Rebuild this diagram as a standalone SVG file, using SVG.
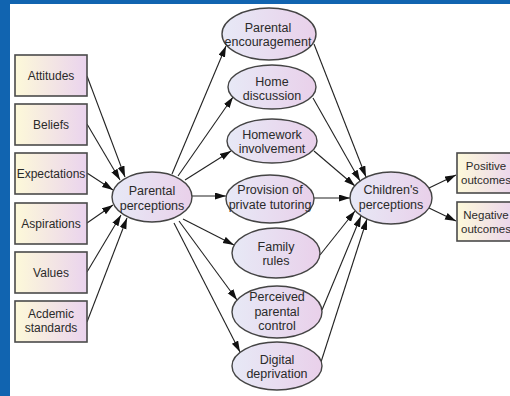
<svg xmlns="http://www.w3.org/2000/svg" width="510" height="396" viewBox="0 0 510 396">
<defs>
<linearGradient id="gBox" x1="0" y1="0" x2="1" y2="0">
<stop offset="0" stop-color="#fdf9d9"/>
<stop offset="1" stop-color="#ead3ee"/>
</linearGradient>
<linearGradient id="gEll" x1="0" y1="0" x2="1" y2="0">
<stop offset="0" stop-color="#e7e9f6"/>
<stop offset="1" stop-color="#e9d0ea"/>
</linearGradient>
<marker id="ah" markerUnits="userSpaceOnUse" markerWidth="12" markerHeight="8" refX="11" refY="3.5" orient="auto">
<path d="M0,0 L11,3.5 L0,7 z" fill="#111"/>
</marker>
<style>
.box{fill:url(#gBox);stroke:#4a4a4a;stroke-width:1.6}
.ell{fill:url(#gEll);stroke:#444;stroke-width:1.4}
text{font-family:"Liberation Sans",Arial,sans-serif;font-size:12.5px;fill:#2a2a2a;text-anchor:middle}
.bt{font-size:12px}
.ot{font-size:11.5px}
#connectors line{stroke:#222;stroke-width:1.1;marker-end:url(#ah)}
</style>
</defs>
<rect x="0" y="0" width="510" height="396" fill="#ffffff"/>
<rect x="0" y="0" width="510" height="4" fill="#1164b0"/>
<rect x="0" y="0" width="10" height="396" fill="#1164b0"/>

<g id="connectors">
<line x1="87" y1="76" x2="125" y2="177"/>
<line x1="87" y1="124" x2="120" y2="180"/>
<line x1="87" y1="173" x2="113" y2="190"/>
<line x1="87" y1="223" x2="113" y2="205"/>
<line x1="87" y1="272" x2="121" y2="215"/>
<line x1="87" y1="322" x2="127" y2="218"/>

<line x1="172" y1="174" x2="226" y2="46"/>
<line x1="178" y1="176" x2="233" y2="97"/>
<line x1="185" y1="180" x2="231" y2="151"/>
<line x1="192" y1="196" x2="226" y2="196"/>
<line x1="183" y1="219" x2="234" y2="245"/>
<line x1="179" y1="221" x2="237" y2="300"/>
<line x1="174" y1="223" x2="240" y2="352"/>

<line x1="314" y1="44" x2="366" y2="177"/>
<line x1="313" y1="98" x2="360" y2="181"/>
<line x1="314" y1="151" x2="355" y2="186"/>
<line x1="314" y1="198" x2="350" y2="198"/>
<line x1="320" y1="255" x2="355" y2="211"/>
<line x1="322" y1="310" x2="361" y2="216"/>
<line x1="321" y1="362" x2="367" y2="219"/>

<line x1="429" y1="188" x2="456" y2="175"/>
<line x1="429" y1="208" x2="456" y2="221"/>
</g>

<g id="attitudes"><rect class="box" x="15" y="55" width="72" height="41"/><text class="bt" x="51" y="79.5">Attitudes</text></g>
<g id="beliefs"><rect class="box" x="15" y="104" width="72" height="41"/><text class="bt" x="51" y="128.5">Beliefs</text></g>
<g id="expectations"><rect class="box" x="15" y="153" width="72" height="41"/><text class="bt" x="51" y="177.5">Expectations</text></g>
<g id="aspirations"><rect class="box" x="15" y="203" width="72" height="41"/><text class="bt" x="51" y="227.5">Aspirations</text></g>
<g id="values"><rect class="box" x="15" y="252" width="72" height="41"/><text class="bt" x="51" y="276.5">Values</text></g>
<g id="academic"><rect class="box" x="15" y="301" width="72" height="41"/><text class="bt" x="51" y="318">Acdemic</text><text class="bt" x="51" y="332">standards</text></g>

<g id="parental-perceptions"><ellipse class="ell" cx="152" cy="197" rx="40" ry="25"/><text x="152" y="195">Parental</text><text x="152" y="210">perceptions</text></g>

<g id="encouragement"><ellipse class="ell" cx="269" cy="34" rx="47" ry="26"/><text x="268" y="32">Parental</text><text x="268" y="46">encouragement</text></g>
<g id="home-discussion"><ellipse class="ell" cx="272" cy="87" rx="44" ry="22"/><text x="272" y="86">Home</text><text x="272" y="100">discussion</text></g>
<g id="homework"><ellipse class="ell" cx="272" cy="141" rx="45" ry="22"/><text x="272" y="139">Homework</text><text x="272" y="153">involvement</text></g>
<g id="tutoring"><ellipse class="ell" cx="270" cy="199" rx="44" ry="24"/><text x="270" y="194">Provision of</text><text x="270" y="209">private tutoring</text></g>
<g id="family-rules"><ellipse class="ell" cx="276" cy="253" rx="44" ry="25"/><text x="276" y="251">Family</text><text x="276" y="265">rules</text></g>
<g id="parental-control"><ellipse class="ell" cx="277" cy="312" rx="45" ry="26"/><text x="277" y="301">Perceived</text><text x="277" y="316">parental</text><text x="277" y="330">control</text></g>
<g id="digital"><ellipse class="ell" cx="277" cy="366" rx="45" ry="24"/><text x="277" y="364">Digital</text><text x="277" y="378">deprivation</text></g>

<g id="childrens-perceptions"><ellipse class="ell" cx="391" cy="198" rx="41" ry="26"/><text x="391" y="194">Children's</text><text x="391" y="209">perceptions</text></g>

<g id="positive"><rect class="box" x="457" y="153" width="60" height="40"/><text class="ot" x="486" y="170">Positive</text><text class="ot" x="486" y="184">outcomes</text></g>
<g id="negative"><rect class="box" x="457" y="202" width="60" height="39"/><text class="ot" x="486" y="219">Negative</text><text class="ot" x="486" y="233">outcomes</text></g>
</svg>
